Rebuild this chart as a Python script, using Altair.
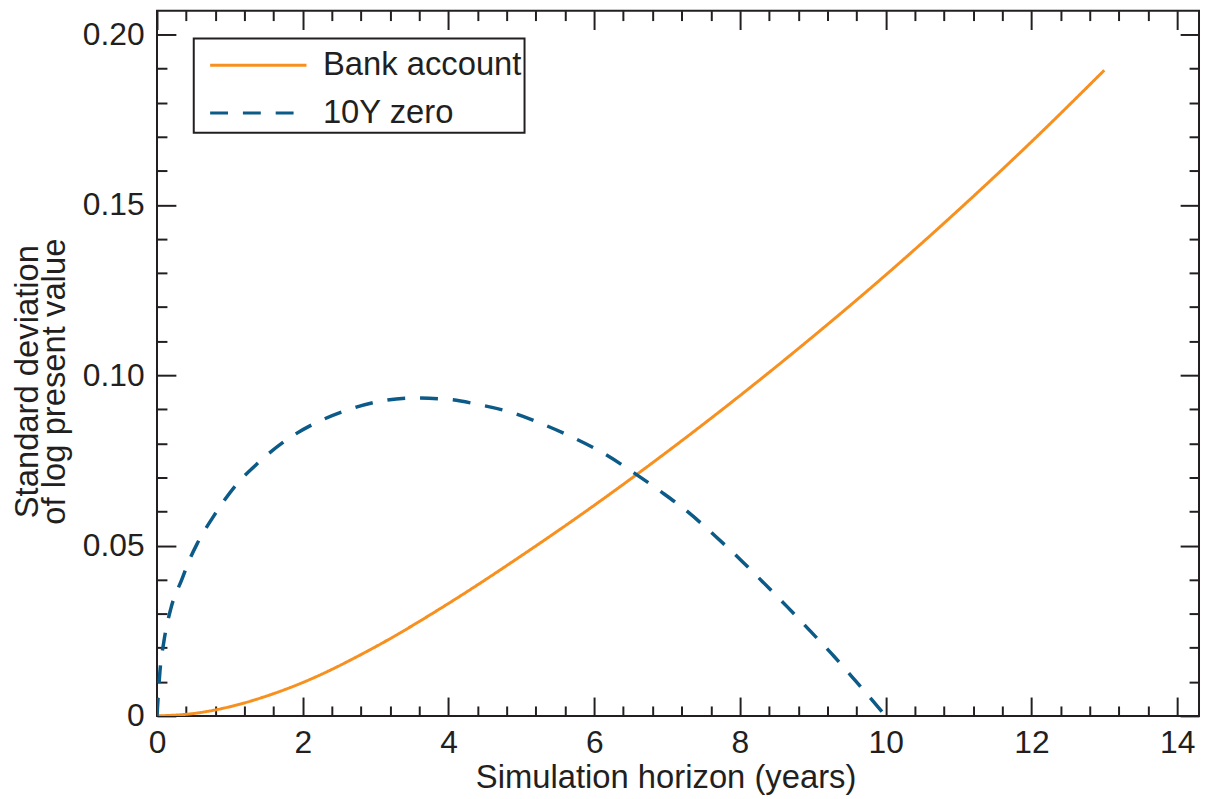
import altair as alt
import pandas as pd

# ---- data ----
bank_t = [0, 0.5, 1, 1.5, 2, 3, 4, 5, 6, 7, 8, 9, 10, 11, 12, 13]
bank_v = [0, 0.0007, 0.0027, 0.0058, 0.0098, 0.0203, 0.0330, 0.0470, 0.0618, 0.0775, 0.0940,
          0.1113, 0.1294, 0.1485, 0.1685, 0.1895]

zero_t = [0, 0.04, 0.095, 0.19, 0.34, 0.46, 0.55, 0.78, 1.07, 1.39, 1.75, 2.16, 2.55, 3.0, 3.52, 4.0,
          4.43, 4.89, 5.32, 5.72, 6.16, 6.54, 6.93, 7.29, 7.66, 8.0, 8.31, 8.65, 8.97, 9.29, 9.59, 10.0]
zero_v = [0, 0.013, 0.0219, 0.0315, 0.040, 0.0465, 0.0505, 0.0587, 0.0674, 0.0743, 0.0806, 0.0858, 0.0893, 0.0921, 0.0933, 0.0929,
          0.0913, 0.0889, 0.0854, 0.0816, 0.0767, 0.0714, 0.0656, 0.0598, 0.0528, 0.0460, 0.0394, 0.0320, 0.0248, 0.0175, 0.0102, 0.0]

series_names = ["Bank account", "10Y zero"]
x_tick_values = [round(0.4 * i, 1) for i in range(36)]      # 0 .. 14, majors every 2
y_tick_values = [round(0.01 * i, 2) for i in range(21)]     # 0 .. 0.20, majors every 0.05

df = pd.concat([
    pd.DataFrame({"t": bank_t, "v": bank_v, "series": series_names[0]}),
    pd.DataFrame({"t": zero_t, "v": zero_v, "series": series_names[1]}),
], ignore_index=True)

# ---- styling ----
W, H = 1049, 710
X_MAX, Y_MAX = 14.3, 0.207
ORANGE, BLUE, INK = "#F7901E", "#0B5A87", "#231F20"
FONT = "Liberation Sans"
MAJ, MIN = 19, 10

x_major_test = "abs(datum.value/2 - round(datum.value/2)) < 1e-6"
y_major_test = "round(datum.value*100) % 5 == 0"
x_tick_size = {"condition": {"test": x_major_test, "value": MAJ}, "value": MIN}
y_tick_size = {"condition": {"test": y_major_test, "value": MAJ}, "value": MIN}

common = dict(domain=False, grid=False, ticks=True, tickColor=INK, tickWidth=2,
              labelFont=FONT, labelFontSize=32, labelColor=INK, labelOverlap=False,
              labelFlush=False, titleFont=FONT, titleColor=INK, titleFontWeight="normal")

# bottom edge: inward ticks + labels + title
x_axis_bottom = alt.Axis(orient="top", offset=-H, values=x_tick_values, tickSize=x_tick_size,
                         labelExpr=f"({x_major_test}) ? format(datum.value, 'd') : ''",
                         labelBaseline="alphabetic", labelPadding=-56,
                         title="Simulation horizon (years)", titleFontSize=33,
                         titleX=512, titleY=72, titleAlign="center", titleBaseline="alphabetic",
                         titleAnchor="start", **common)
# left edge: inward ticks + labels + title
y_axis_left = alt.Axis(orient="right", offset=-W, values=y_tick_values, tickSize=y_tick_size,
                       labelExpr=f"({y_major_test}) ? (datum.value == 0 ? '0' : format(datum.value, '.2f')) : ''",
                       labelAlign="right", labelBaseline="middle", labelPadding=-32,
                       title=["Standard deviation", "of log present value"], titleFontSize=33,
                       titleX=-130, titleY=373, titleAngle=270, titleAlign="center",
                       titleBaseline="middle", titleAnchor="start", titleLineHeight=27, **common)
# top edge: inward ticks only
x_axis_top = alt.Axis(orient="bottom", offset=-H, values=x_tick_values, tickSize=x_tick_size,
                      labels=False, title=None, **common)
# right edge: inward ticks only
y_axis_right = alt.Axis(orient="left", offset=-W, values=y_tick_values, tickSize=y_tick_size,
                        labels=False, title=None, **common)

x_scale = alt.Scale(domain=[0, X_MAX], nice=False, zero=False)
y_scale = alt.Scale(domain=[0, Y_MAX], nice=False, zero=False)

legend = alt.Legend(title=None, orient="none", legendX=37, legendY=28,
                    symbolType="M-2.156,0H2.156", symbolSize=2025, symbolOffset=38,
                    symbolStrokeWidth=3, symbolFillColor="transparent",
                    labelFont=FONT, labelFontSize=33, labelColor=INK, labelOffset=41,
                    labelLimit=0, padding=3, rowPadding=7,
                    strokeColor=INK, fillColor="white")

color = alt.Color("series:N", scale=alt.Scale(domain=series_names, range=[ORANGE, BLUE]), legend=legend)
dash = alt.StrokeDash("series:N", scale=alt.Scale(domain=series_names, range=[[1, 0], [18, 15]]), legend=legend)

bank = alt.Chart(df).transform_filter(alt.datum.series == series_names[0]).mark_line(
    strokeWidth=3, interpolate="monotone", clip=True
).encode(
    x=alt.X("t:Q", scale=x_scale, axis=x_axis_bottom),
    y=alt.Y("v:Q", scale=y_scale, axis=y_axis_left),
    color=color, strokeDash=dash,
)

zero = alt.Chart(df).transform_filter(alt.datum.series == series_names[1]).mark_line(
    strokeWidth=3.5, interpolate="monotone", clip=True
).encode(
    x=alt.X("t:Q", scale=x_scale, axis=x_axis_top),
    y=alt.Y("v:Q", scale=y_scale, axis=y_axis_right),
    color=color, strokeDash=dash,
)

chart = alt.layer(bank, zero).resolve_axis(x="independent", y="independent").properties(
    width=W, height=H,
    autosize=alt.AutoSizeParams(type="none"),
    padding={"left": 150, "top": 0, "right": 2, "bottom": 81},
).configure_view(stroke=INK, strokeWidth=2).configure_legend(strokeWidth=2, cornerRadius=0)

chart.save("out.html", embed_options={"renderer": "svg", "actions": False})
